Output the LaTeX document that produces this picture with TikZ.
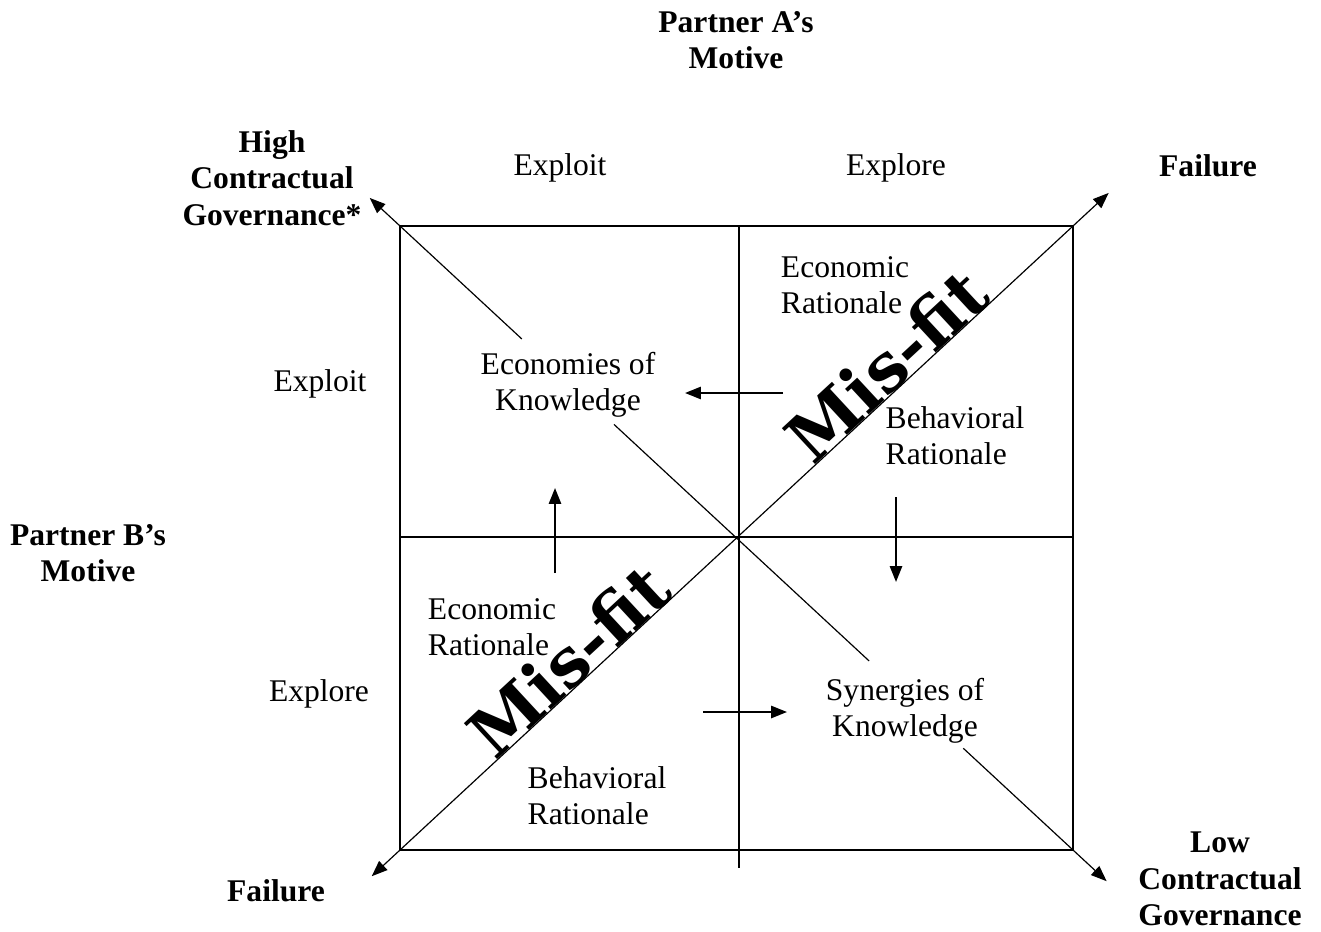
\documentclass[tikz,border=0pt]{standalone}
\usepackage{fontspec}
\setmainfont{Liberation Serif}
\newfontfamily\misfitfont{DejaVu Serif}
\usetikzlibrary{arrows.meta,calc}

\begin{document}
\begin{tikzpicture}[x=0.38pt,y=-0.38pt,
  font=\fontsize{12}{13.8}\selectfont,
  lbl/.style={align=center,inner sep=1pt},
  hd/.style={lbl,font=\fontsize{12}{13.8}\selectfont\bfseries},
  axis/.style={line width=0.45pt},
  diag/.style={line width=0.45pt,-{Triangle[length=6pt,width=4.6pt]}},
  move/.style={line width=0.8pt,-{Triangle[length=6pt,width=4.6pt]}},
  misfit/.style={font=\misfitfont\bfseries\fontsize{25.5}{25.5}\selectfont,inner sep=0pt,anchor=base,rotate=42.8}]
\useasboundingbox (0,0) rectangle (1321,932);
% grid corners
\coordinate (tl) at (400,226);
\coordinate (tr) at (1073,226);
\coordinate (bl) at (400,850);
\coordinate (br) at (1073,850);
\coordinate (mid) at (739,537);
% the square and its quadrants
\draw[axis] (tl) rectangle (br);
\draw[axis] (tl |- mid) -- (tr |- mid);
\draw[axis] (mid |- tl) -- ([yshift=-7]mid |- bl);
% headings
\node[hd] (pa) at (736,40) {Partner A's\\Motive};
\node[hd] (pb) at (88,553) {Partner B's\\Motive};
\node[hd] (hcg) at (272,178) {High\\Contractual\\Governance*};
\node[hd] (lcg) at (1220,879) {Low\\Contractual\\Governance};
\node[hd] (failUR) at (1208,166) {Failure};
\node[hd] (failLL) at (276,891) {Failure};
% motives
\node[lbl] (exA) at (560,168) {Exploit};
\node[lbl] (epA) at (896,168) {Explore};
\node[lbl] (exB) at (320,384) {Exploit};
\node[lbl] (epB) at (319,694) {Explore};
% quadrant texts
\node[lbl] (ek) at (568,385) {Economies of\\Knowledge};
\node[lbl] (sk) at (905,711) {Synergies of\\Knowledge};
\node[lbl,align=left] (erA) at (845,285) {Economic\\Rationale};
\node[lbl,align=left] (brA) at (955,436) {Behavioral\\Rationale};
\node[lbl,align=left] (erB) at (492,627) {Economic\\Rationale};
\node[lbl,align=left] (brB) at (597,796) {Behavioral\\Rationale};
% failure diagonal
\coordinate (tipLL) at ($(bl)!-0.042!(tr)$);
\coordinate (tipUR) at ($(bl)!1.053!(tr)$);
\draw[axis,{Triangle[length=6pt,width=4.6pt]}-{Triangle[length=6pt,width=4.6pt]}] (tipLL) -- (tipUR);
\node[misfit] (mfA) at ($(bl)!0.748!(tr)$) {Mis-fit};
\node[misfit] (mfB) at ($(bl)!0.275!(tr)$) {Mis-fit};
% governance diagonal
\coordinate (tipH) at ($(tl)!-0.045!(br)$);
\coordinate (tipL) at ($(tl)!1.05!(br)$);
\coordinate (g1) at ($(tl)!0.181!(br)$);
\coordinate (g2) at ($(tl)!0.318!(br)$);
\coordinate (g3) at ($(tl)!0.697!(br)$);
\coordinate (g4) at ($(tl)!0.837!(br)$);
\draw[diag] (g1) -- (tipH);
\draw[axis] (g2) -- (g3);
\draw[diag] (g4) -- (tipL);
% moves between quadrants
\coordinate (mL) at (783,393);
\coordinate (mU) at (555,573);
\coordinate (mD) at (896,497);
\coordinate (mR) at (703,712);
\draw[move] (mL) -- ++(-98,0);
\draw[move] (mU) -- ++(0,-85);
\draw[move] (mD) -- ++(0,85);
\draw[move] (mR) -- ++(84,0);
\end{tikzpicture}
\end{document}
